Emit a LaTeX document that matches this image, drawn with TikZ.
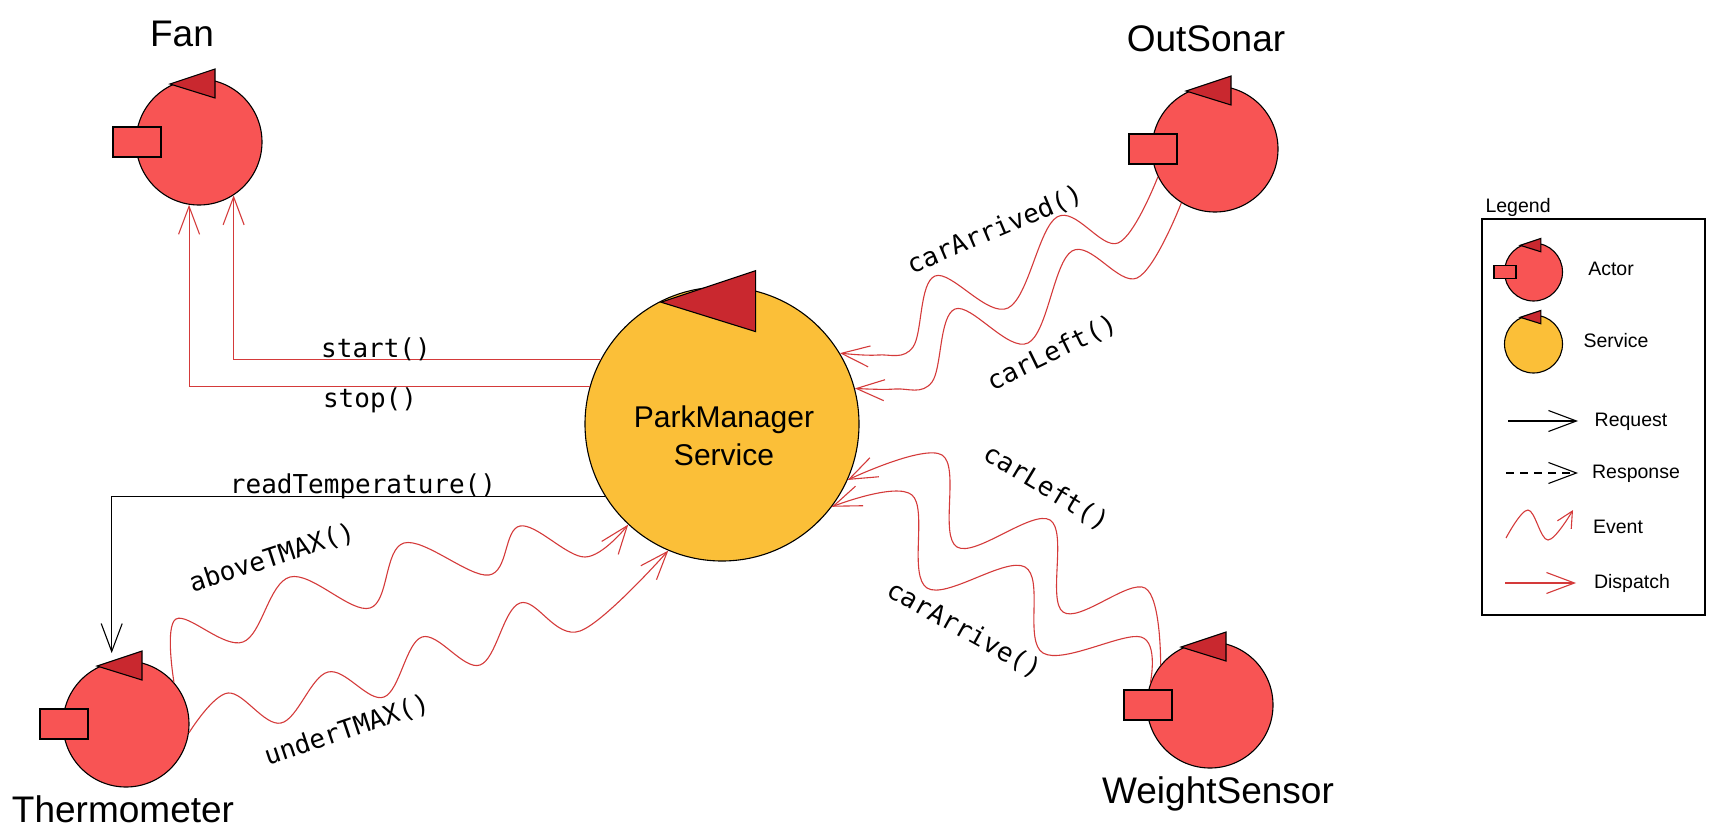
\documentclass[tikz,border=0pt]{standalone}
\usepackage{fontspec}
\setmainfont{Liberation Sans}
\newfontfamily\codefont{DejaVu Sans Mono}
\usetikzlibrary{arrows.meta}

\definecolor{actorred}{HTML}{F85454}
\definecolor{headred}{HTML}{C9282F}
\definecolor{svcyellow}{HTML}{FBBF38}
\definecolor{msgred}{HTML}{D43A3A}

\tikzset{
  actor/.style={circle,draw,line width=1.1pt,fill=actorred,minimum size=126pt,inner sep=0pt},
  service/.style={circle,draw,line width=1.1pt,fill=svcyellow,minimum size=274pt,inner sep=0pt},
  headtri/.style={draw,line width=1.1pt,fill=headred},
  portbox/.style={draw,line width=1.1pt,fill=actorred},
  actorname/.style={font=\fontsize{37}{44}\selectfont,anchor=base},
  msg/.style={font=\codefont\fontsize{26}{30}\selectfont},
  lgtext/.style={font=\fontsize{19.5}{23}\selectfont},
  openhead/.style={-{Straight Barb[length=28pt,width=21pt]}},
  request/.style={draw,line width=1.1pt,openhead},
  dispatch/.style={draw=msgred,line width=1.1pt,openhead},
  event/.style={draw=msgred,line width=1.1pt,openhead}
}

\begin{document}
\begin{tikzpicture}[x=1pt,y=-1pt]
  \useasboundingbox (0,0) rectangle (1715,840);

  % actors and the service
  \node[actor] (fan) at (199,142) {};
  \node[actor] (os) at (1215,149) {};
  \node[actor] (therm) at (126,724) {};
  \node[actor] (ws) at (1210,705) {};
  \node[service] (svc) at (722,424) {};
  \node[font=\fontsize{30}{38}\selectfont,align=center] (svctext) at (724,436) {ParkManager\\Service};

  % legend icons
  \node[actor,minimum size=58pt] (lgactor) at (1533.5,272) {};
  \node[service,minimum size=58pt] (lgsvc) at (1533.5,344) {};

  % ports and heads
  \foreach \a/\k in {fan/1,os/1,therm/1,ws/1,lgactor/0.46}{
    \begin{scope}[shift={(\a.center)},scale=\k]
      \draw[portbox] (-86,-15) rectangle (-38,15);
      \draw[headtri] (-29,-58) -- (16,-73) -- (16,-44) -- cycle;
    \end{scope}
  }
  \foreach \a/\k in {svc/2.1,lgsvc/0.46}{
    \begin{scope}[shift={(\a.center)},scale=\k]
      \draw[headtri] (-29,-58) -- (16,-73) -- (16,-44) -- cycle;
    \end{scope}
  }

  \node[actorname] (fanlbl) at (182,47) {Fan};
  \node[actorname] (oslbl) at (1206,52) {OutSonar};
  \node[actorname] (thermlbl) at (123,822) {Thermometer};
  \node[actorname] (wslbl) at (1218,803) {WeightSensor};

  % dispatches and request
  \coordinate (thermtop) at ([yshift=9pt]therm.103);
  \draw[dispatch] (svc.152.9) -| (fan.-57);
  \draw[dispatch] (svc.164.7) -| (fan.261.4);
  \draw[request] (svc.212.7) -| (thermtop);

  % events
  \draw[event] plot[smooth,tension=0.6] coordinates {(os.206) (1118,243) (1057,217)
    (1008,308) (935,276) (913,347) (878,355) (svc.31.5)};
  \draw[event] plot[smooth,tension=0.6] coordinates {(os.238) (1137,278) (1072,251)
    (1028,343) (955,309) (932,382) (895,389) (svc.15.4)};
  \draw[event] plot[smooth,tension=0.6] coordinates {(ws.141) (1145,588) (1063,612)
    (1050,520) (957,547) (942,455) (svc.-24)};
  \draw[event] plot[smooth,tension=0.6] coordinates {(ws.160.5) (1141,637) (1043,653)
    (1025,567) (927,588) (912,495) (svc.-37.9)};
  \draw[event] plot[smooth,tension=0.6] coordinates {(therm.41) (176,619) (243,642)
    (290,577) (370,608) (404,543) (489,575) (520,526) (585,557) (svc.227.6)};
  \draw[event] plot[smooth,tension=0.6] coordinates {(therm.-8) (228,693) (281,723)
    (328,672) (384,697) (422,637) (480,665) (520,603) (580,631) (svc.247)};

  \node[msg] (startlbl) at (376,349) {start()};
  \node[msg] (stoplbl) at (370,400) {stop()};
  \node[msg] (readlbl) at (363,486) {readTemperature()};
  \node[msg,rotate=18] (abovelbl) at (272,558) {aboveTMAX()};
  \node[msg,rotate=18.5] (underlbl) at (347,730) {underTMAX()};
  \node[msg,rotate=23] (arrivedlbl) at (995,230) {carArrived()};
  \node[msg,rotate=26] (osleftlbl) at (1052,353) {carLeft()};
  \node[msg,rotate=-31] (wsleftlbl) at (1046,488) {carLeft()};
  \node[msg,rotate=-29] (arrivelbl) at (964,630) {carArrive()};

  % legend
  \node[lgtext,anchor=base west] (lgtitle) at (1482,212) {Legend};
  \draw[line width=1.2pt] (1482,219) rectangle (1705,615);
  \node[lgtext] (lgactortxt) at (1611,269) {Actor};
  \node[lgtext] (lgsvctxt) at (1616,341) {Service};
  \node[lgtext] (lgreqtxt) at (1631,422) {Request};
  \node[lgtext] (lgresptxt) at (1636,474) {Response};
  \node[lgtext] (lgevtxt) at (1618,527) {Event};
  \node[lgtext] (lgdisptxt) at (1632,583) {Dispatch};
  \coordinate (rqa) at (1508,421);
  \coordinate (rqb) at (1578,421);
  \coordinate (rsa) at (1506,473);
  \coordinate (rsb) at (1578,473);
  \coordinate (eva) at (1506,538);
  \coordinate (evb) at (1573,510);
  \coordinate (dpa) at (1505,583);
  \coordinate (dpb) at (1576,583);
  \draw[request] (rqa) -- (rqb);
  \draw[request,dash pattern=on 8pt off 6pt] (rsa) -- (rsb);
  \draw[event,-{Straight Barb[length=16pt,width=16pt]}] plot[smooth,tension=0.6]
    coordinates {(eva) (1528,510) (1548,540) (evb)};
  \draw[dispatch] (dpa) -- (dpb);
\end{tikzpicture}
\end{document}
